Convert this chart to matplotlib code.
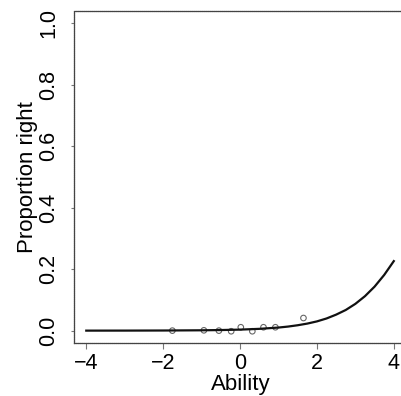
import numpy as np
import matplotlib
matplotlib.use("Agg")
import matplotlib.pyplot as plt

plt.rcParams['font.family'] = ['Liberation Sans', 'DejaVu Sans']

# observed proportions (open circles)
obs_ability = [-1.76, -0.94, -0.55, -0.23, 0.02, 0.32, 0.61, 0.92, 1.65]
obs_prop = [0.000, 0.001, 0.000, -0.002, 0.011, -0.002, 0.011, 0.011, 0.041]

# fitted item curve
curve_ability = [-4, -3, -2, -1, -0.5, 0, 0.5, 1, 1.25, 1.5, 1.75, 2,
                 2.25, 2.5, 2.75, 3, 3.25, 3.5, 3.75, 4]
curve_prop = [0.0000, 0.0001, 0.0004, 0.0011, 0.0019, 0.0033, 0.0058, 0.0100,
              0.0132, 0.0175, 0.0229, 0.030, 0.0395, 0.052, 0.0671, 0.087,
              0.112, 0.143, 0.181, 0.226]

x_ticks = [-4, -2, 0, 2, 4]
y_ticks = [0.0, 0.2, 0.4, 0.6, 0.8, 1.0]

fig = plt.figure(figsize=(4.02, 3.96), dpi=100)
ax = fig.add_axes([0.184, 0.134, 0.83, 0.839])

ax.plot(curve_ability, curve_prop, color='#111111', lw=1.6)
ax.scatter(obs_ability, obs_prop, s=16, facecolors='none', edgecolors='#666666', lw=0.8)

ax.set_xlim(-4.32, 4.36)
ax.set_ylim(-0.04, 1.04)
ax.set_xticks(x_ticks)
ax.set_xticklabels(['\u22124', '\u22122', '0', '2', '4'])
ax.set_yticks(y_ticks)
ax.set_yticklabels(['%.1f' % v for v in y_ticks], rotation=90, va='center')

for s in ax.spines.values():
    s.set_linestyle((0, (1, 0.6)))
    s.set_linewidth(0.9)
    s.set_color('#444444')

ax.tick_params(axis='both', labelsize=15.5, width=0.8, color='#777777')
ax.tick_params(axis='x', length=4, pad=3)
ax.tick_params(axis='y', length=2.5, pad=8)
ax.set_xlabel('Ability', fontsize=16, labelpad=0.5)
ax.set_ylabel('Proportion right', fontsize=16, labelpad=0)

fig.savefig('out.png', dpi=100)
